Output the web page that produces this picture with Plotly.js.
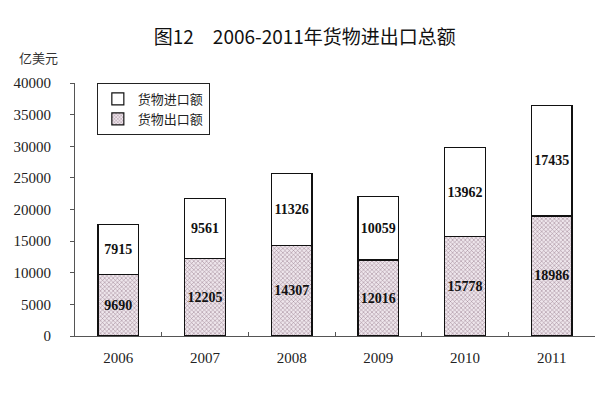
<!DOCTYPE html>
<html>
<head>
<meta charset="utf-8">
<script src="https://cdn.plot.ly/plotly-3.0.1.min.js"></script>
<style>html,body{margin:0;padding:0;background:#fff;}#chart{width:600px;height:394px;}</style>
</head>
<body>
<div id="chart"></div>
<script>
const years = ['2006', '2007', '2008', '2009', '2010', '2011'];
const exportsVal = [9690, 12205, 14307, 12016, 15778, 18986];
const importsVal = [7915, 9561, 11326, 10059, 13962, 17435];
const yTicks = [0, 5000, 10000, 15000, 20000, 25000, 30000, 35000, 40000];

const labelFont = {family: 'Liberation Serif, Times New Roman, serif', size: 14, color: '#111', weight: 'bold'};

const traces = [
  {
    type: 'bar', name: '货物出口额', x: years, y: exportsVal,
    text: exportsVal.map(String), textposition: 'inside', insidetextanchor: 'middle',
    textangle: 0, constraintext: 'none',
    textfont: labelFont,
    marker: {color: '#d9cbd4', line: {color: '#111', width: 1.2},
      pattern: {shape: 'x', size: 3, solidity: 0.3, fgcolor: '#9a8090', bgcolor: '#eee6ec'}},
    width: 0.47, hoverinfo: 'skip'
  },
  {
    type: 'bar', name: '货物进口额', x: years, y: importsVal,
    text: importsVal.map(String), textposition: 'inside', insidetextanchor: 'middle',
    textangle: 0, constraintext: 'none',
    textfont: labelFont,
    marker: {color: '#ffffff', line: {color: '#111', width: 1.2}},
    width: 0.47, hoverinfo: 'skip'
  }
];

const layout = {
  width: 600, height: 394,
  margin: {l: 75, r: 5, t: 83, b: 58},
  paper_bgcolor: '#fff', plot_bgcolor: '#fff',
  barmode: 'stack',
  showlegend: true,
  title: {text: '图12　2006-2011年货物进出口总额', x: 0.508, xanchor: 'center', y: 0.905, yanchor: 'middle',
    font: {family: 'Noto Sans CJK SC, sans-serif', size: 19, color: '#111', weight: 'normal'}},
  xaxis: {type: 'category', showline: true, linecolor: '#555', linewidth: 1,
    ticks: 'inside', tickson: 'boundaries', ticklen: 4, tickcolor: '#555',
    ticklabelstandoff: 8,
    tickfont: {family: 'Liberation Serif, Times New Roman, serif', size: 15, color: '#222'},
    showgrid: false, zeroline: false, fixedrange: true},
  yaxis: {range: [0, 40000], tickvals: yTicks, ticktext: yTicks.map(String),
    showline: true, linecolor: '#555', linewidth: 1, ticks: 'outside', ticklen: 4, tickcolor: '#555',
    ticklabelstandoff: 16,
    tickfont: {family: 'Liberation Serif, Times New Roman, serif', size: 15, color: '#222'},
    showgrid: false, zeroline: false, fixedrange: true},
  legend: {x: 0.042, y: 1.0, xanchor: 'left', yanchor: 'top', traceorder: 'reversed',
    bgcolor: '#fff', bordercolor: '#222', borderwidth: 1,
    font: {family: 'Noto Sans CJK SC, sans-serif', size: 13, color: '#222'},
    itemwidth: 20, tracegroupgap: 0},
  annotations: [
    {text: '亿美元', xref: 'paper', yref: 'paper', x: -0.07, y: 1.1, xanchor: 'center', yanchor: 'middle',
      showarrow: false, font: {family: 'Noto Sans CJK SC, sans-serif', size: 13, color: '#333'}}
  ]
};

Plotly.newPlot('chart', traces, layout, {displayModeBar: false, staticPlot: true});
</script>
</body>
</html>
